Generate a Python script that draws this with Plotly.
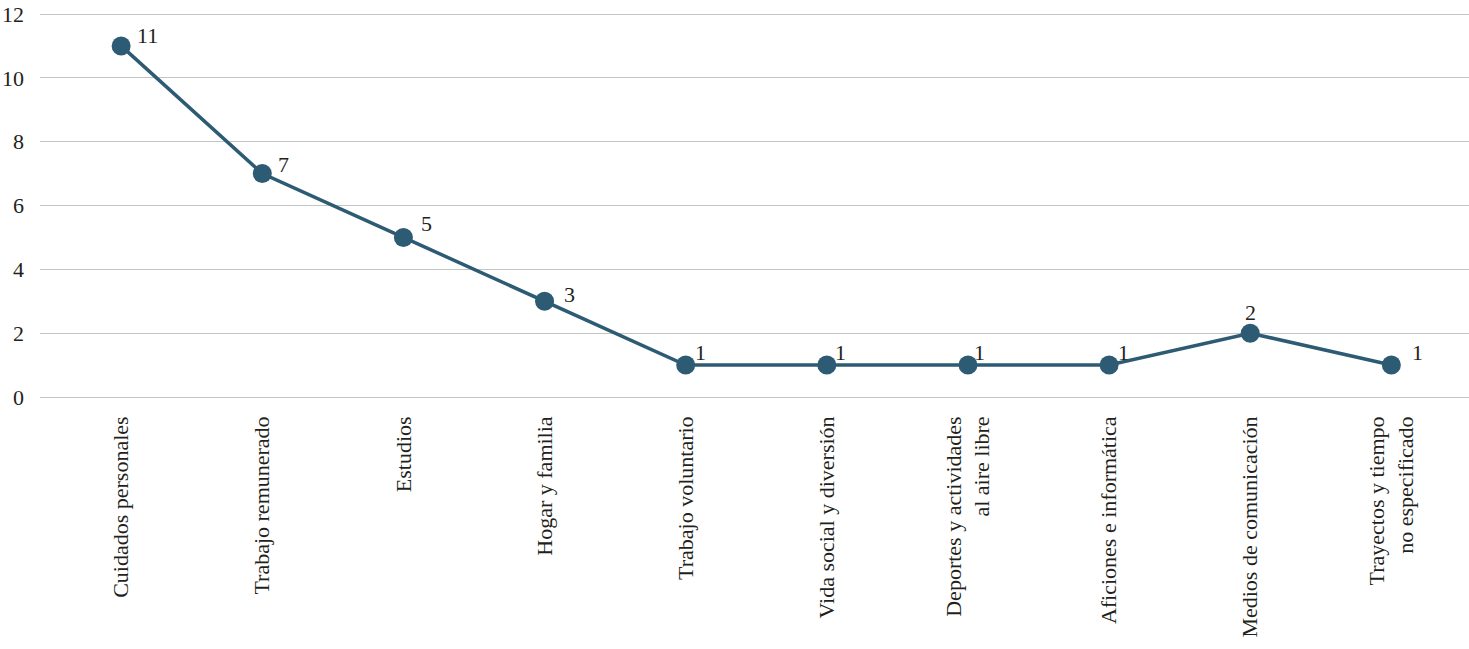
import plotly.graph_objects as go

categories = [
    "Cuidados personales",
    "Trabajo remunerado",
    "Estudios",
    "Hogar y familia",
    "Trabajo voluntario",
    "Vida social y diversión",
    "Deportes y actividades<br>al aire libre",
    "Aficiones e informática",
    "Medios de comunicación",
    "Trayectos y tiempo<br>no especificado",
]
values = [11, 7, 5, 3, 1, 1, 1, 1, 2, 1]
y_ticks = [0, 2, 4, 6, 8, 10, 12]

# label offsets (pixels) relative to each marker
label_dx = [26, 21, 23, 25, 15, 14, 12, 14, 0, 26]
label_dy = [10, 9, 14, 7, 13, 13, 13, 13, 21, 13]

FONT = "Liberation Serif"
COLOR = "#2d5b73"
TEXT = "#231f20"

fig = go.Figure(
    go.Scatter(
        x=list(range(len(categories))),
        y=values,
        mode="lines+markers",
        line=dict(color=COLOR, width=3.5),
        marker=dict(color=COLOR, size=19),
        cliponaxis=False,
        hoverinfo="skip",
    )
)

for i, v in enumerate(values):
    fig.add_annotation(
        x=i, y=v, text=str(v), showarrow=False,
        xanchor="center", yanchor="middle",
        xshift=label_dx[i], yshift=label_dy[i],
        font=dict(family=FONT, size=22, color=TEXT),
    )

# plot area: y=12 at 14px, y=0 at 397px (range padded so edge gridlines draw)
fig.update_layout(
    width=1469,
    height=649,
    margin=dict(l=40, r=0, t=11, b=249),
    paper_bgcolor="white",
    plot_bgcolor="white",
    showlegend=False,
    font=dict(family=FONT, size=22, color=TEXT),
)
fig.update_xaxes(
    range=[-0.575, 9.55],
    tickmode="array",
    tickvals=list(range(len(categories))),
    ticktext=categories,
    tickangle=-90,
    showgrid=False,
    zeroline=False,
    showline=False,
    ticks="",
    automargin=False,
    ticklabelstandoff=11,
    tickfont=dict(family=FONT, size=22, color=TEXT),
)
fig.update_yaxes(
    range=[-0.094, 12.094],
    tickvals=y_ticks,
    showgrid=True,
    gridcolor="#c4c4c4",
    gridwidth=1,
    zeroline=False,
    showline=False,
    ticks="",
    automargin=False,
    ticklabelstandoff=15,
    tickfont=dict(family=FONT, size=22, color=TEXT),
)

fig.write_html(
    "out.html",
    config={"displayModeBar": False},
    post_script="document.body.style.margin='0';document.body.style.overflow='hidden';",
)
